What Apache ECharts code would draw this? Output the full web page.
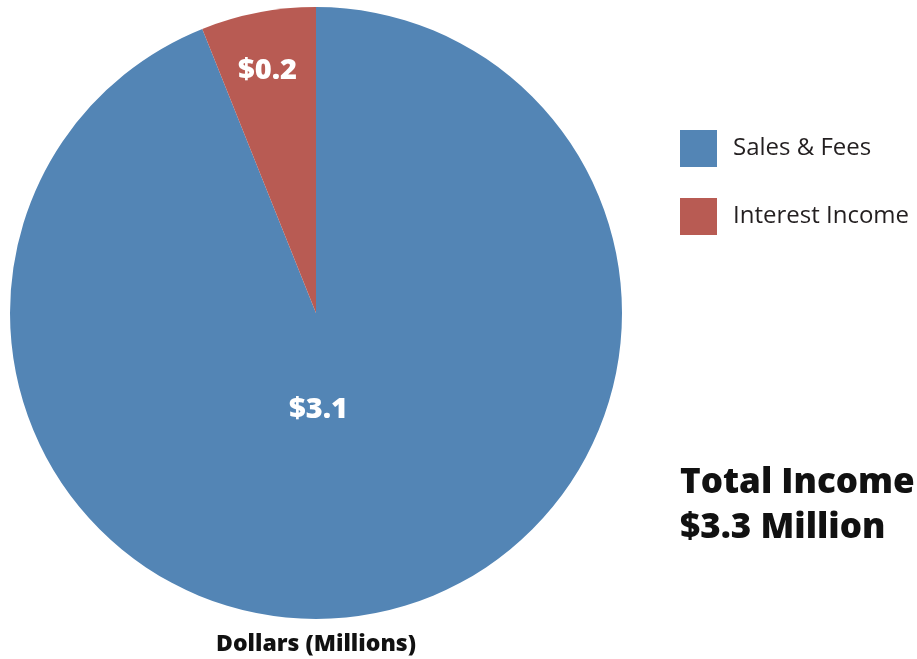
<!DOCTYPE html>
<html>
<head>
<meta charset="utf-8">
<script src="https://cdn.jsdelivr.net/npm/echarts@6/dist/echarts.min.js"></script>
<style>
  html, body { margin: 0; padding: 0; background: #fff; }
  #main { width: 917px; height: 659px; }
</style>
</head>
<body>
<div id="main"></div>
<script>
var categories = ['Sales & Fees', 'Interest Income'];
var values = [3.1, 0.2];
var colors = ['#5385b5', '#b85b53'];
var totalText = ['Total Income', '$3.3 Million'];
var unitText = 'Dollars (Millions)';

// label nudges (Excel placed them by hand)
var labelShift = [
  { dx: -27, dy: -56 },
  { dx: -19, dy: -89 }
];

var chart = echarts.init(document.getElementById('main'));

var option = {
  animation: false,
  title: [
    {
      text: totalText.join('\n'),
      left: 675,
      top: 456,
      textStyle: {
        fontFamily: 'Open Sans',
        fontSize: 35,
        fontWeight: 800,
        color: '#111',
        lineHeight: 45
      }
    },
    {
      text: unitText,
      left: 311,
      textAlign: 'center',
      top: 628,
      textStyle: {
        fontFamily: 'Open Sans',
        fontSize: 23,
        fontWeight: 800,
        color: '#111'
      }
    }
  ],
  legend: {
    orient: 'vertical',
    left: 675,
    top: 125,
    icon: 'rect',
    itemWidth: 37,
    itemHeight: 37,
    itemGap: 31,
    data: categories,
    textStyle: {
      fontFamily: 'Open Sans',
      fontSize: 24,
      color: '#231f20',
      padding: [0, 0, 0, 11]
    }
  },
  series: [
    {
      type: 'pie',
      center: [316, 313],
      radius: 306,
      startAngle: 90,
      clockwise: true,
      silent: true,
      label: {
        show: true,
        position: 'inner',
        formatter: function (p) { return '$' + p.value.toFixed(1); },
        fontFamily: 'Open Sans',
        fontSize: 29,
        fontWeight: 800,
        color: '#fff'
      },
      labelLine: { show: false },
      labelLayout: function (p) {
        return labelShift[p.dataIndex];
      },
      itemStyle: { borderWidth: 0 },
      data: categories.map(function (c, i) {
        return { name: c, value: values[i], itemStyle: { color: colors[i] } };
      })
    }
  ]
};

chart.setOption(option);
</script>
</body>
</html>
